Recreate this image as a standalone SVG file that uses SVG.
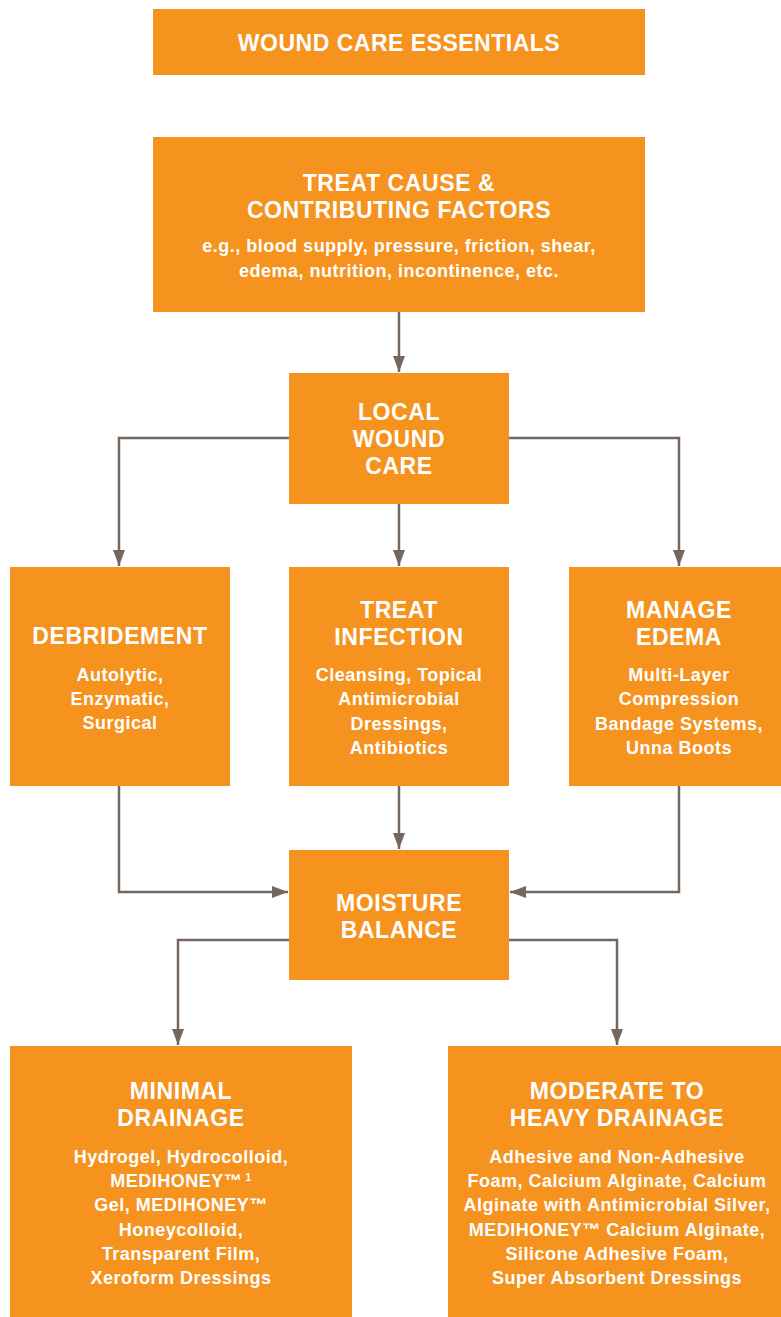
<svg xmlns="http://www.w3.org/2000/svg" width="781" height="1317" viewBox="0 0 781 1317">
<defs>
<marker id="ahb" markerWidth="16" markerHeight="12" refX="16" refY="6" orient="auto" markerUnits="userSpaceOnUse" viewBox="0 0 16 12">
<path d="M0,0 L16,6 L0,12 Z" fill="#75665e"/>
</marker>
</defs>
<style>
.box{fill:#f6921e}
text{font-family:"Liberation Sans",Arial,Helvetica,sans-serif;font-weight:bold;fill:#ffffff;text-anchor:middle}
.h{font-size:23px;letter-spacing:0.6px}
.s{font-size:18px;letter-spacing:0.5px}
.t{font-size:23px;letter-spacing:0.5px}
.c{fill:none;stroke:#75665e;stroke-width:2.5;marker-end:url(#ahb)}
</style>
<rect width="781" height="1317" fill="#ffffff"/>
<g id="title">
<rect class="box" x="153" y="9" width="492" height="66"/>
<text class="t" x="399" y="51">WOUND CARE ESSENTIALS</text>
</g>
<g id="treat-cause">
<rect class="box" x="153" y="137" width="492" height="175"/>
<text class="h" x="399" y="191">TREAT CAUSE &amp;</text>
<text class="h" x="399" y="218">CONTRIBUTING FACTORS</text>
<text class="s" x="399" y="252">e.g., blood supply, pressure, friction, shear,</text>
<text class="s" x="399" y="277">edema, nutrition, incontinence, etc.</text>
</g>
<g id="local-wound-care">
<rect class="box" x="289" y="373" width="220" height="131"/>
<text class="h" x="399" y="420">LOCAL</text>
<text class="h" x="399" y="447">WOUND</text>
<text class="h" x="399" y="474">CARE</text>
</g>
<g id="debridement">
<rect class="box" x="10" y="567" width="220" height="219"/>
<text class="h" x="120" y="644">DEBRIDEMENT</text>
<text class="s" x="120" y="681">Autolytic,</text>
<text class="s" x="120" y="705">Enzymatic,</text>
<text class="s" x="120" y="729">Surgical</text>
</g>
<g id="treat-infection">
<rect class="box" x="289" y="567" width="220" height="219"/>
<text class="h" x="399" y="618">TREAT</text>
<text class="h" x="399" y="645">INFECTION</text>
<text class="s" x="399" y="681">Cleansing, Topical</text>
<text class="s" x="399" y="705">Antimicrobial</text>
<text class="s" x="399" y="730">Dressings,</text>
<text class="s" x="399" y="754">Antibiotics</text>
</g>
<g id="manage-edema">
<rect class="box" x="569" y="567" width="212" height="219"/>
<text class="h" x="679" y="618">MANAGE</text>
<text class="h" x="679" y="645">EDEMA</text>
<text class="s" x="679" y="681">Multi-Layer</text>
<text class="s" x="679" y="705">Compression</text>
<text class="s" x="679" y="730">Bandage Systems,</text>
<text class="s" x="679" y="754">Unna Boots</text>
</g>
<g id="moisture-balance">
<rect class="box" x="289" y="850" width="220" height="130"/>
<text class="h" x="399" y="911">MOISTURE</text>
<text class="h" x="399" y="938">BALANCE</text>
</g>
<g id="minimal-drainage">
<rect class="box" x="10" y="1046" width="342" height="271"/>
<text class="h" x="181" y="1099">MINIMAL</text>
<text class="h" x="181" y="1126">DRAINAGE</text>
<text class="s" x="181" y="1163">Hydrogel, Hydrocolloid,</text>
<text class="s" x="181" y="1187">MEDIHONEY™<tspan font-size="10" dy="-6"> 1</tspan></text>
<text class="s" x="181" y="1211">Gel, MEDIHONEY™</text>
<text class="s" x="181" y="1236">Honeycolloid,</text>
<text class="s" x="181" y="1260">Transparent Film,</text>
<text class="s" x="181" y="1284">Xeroform Dressings</text>
</g>
<g id="moderate-heavy-drainage">
<rect class="box" x="448" y="1046" width="333" height="271"/>
<text class="h" x="617" y="1099">MODERATE TO</text>
<text class="h" x="617" y="1126">HEAVY DRAINAGE</text>
<text class="s" x="617" y="1163">Adhesive and Non-Adhesive</text>
<text class="s" x="617" y="1187">Foam, Calcium Alginate, Calcium</text>
<text class="s" x="617" y="1211">Alginate with Antimicrobial Silver,</text>
<text class="s" x="617" y="1236">MEDIHONEY™ Calcium Alginate,</text>
<text class="s" x="617" y="1260">Silicone Adhesive Foam,</text>
<text class="s" x="617" y="1284">Super Absorbent Dressings</text>
</g>
<g id="connectors">
<path class="c" d="M399,312 V372"/>
<path class="c" d="M289,438 H119 V566"/>
<path class="c" d="M399,504 V566"/>
<path class="c" d="M509,438 H679 V566"/>
<path class="c" d="M119,786 V892 H288"/>
<path class="c" d="M399,786 V849"/>
<path class="c" d="M679,786 V892 H510"/>
<path class="c" d="M289,940 H178 V1045"/>
<path class="c" d="M509,940 H617 V1045"/>
</g>
</svg>
